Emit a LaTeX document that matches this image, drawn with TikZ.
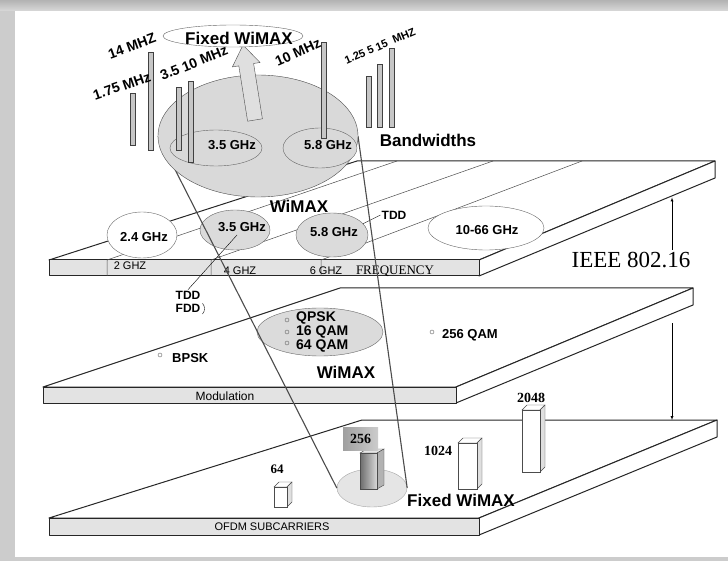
\documentclass[tikz,border=0pt]{standalone}
\usepackage{fontspec}
\setmainfont{Liberation Serif}
\setsansfont{Liberation Sans}
\usetikzlibrary{shapes,arrows,positioning,calc}

\begin{document}
\begin{tikzpicture}[x=1pt, y=-1pt,
    plane/.style={draw=black!85, line width=1pt, line join=round},
    grid/.style={draw=black!70, line width=0.5pt},
    bar/.style={draw=black!75, fill=gray!45, line width=0.8pt},
    wspot/.style={ellipse, draw=black!60, fill=white, inner sep=0pt},
    gspot/.style={ellipse, draw=black!60, fill=gray!28, inner sep=0pt},
    cone/.style={draw=gray!60!black, line width=1.1pt},
    lbl/.style={font=\sffamily\bfseries\fontsize{#1}{#1}\selectfont, inner sep=1pt},
    ftxt/.style={font=\sffamily\fontsize{#1}{#1}\selectfont, inner sep=0pt},
    num/.style={font=\bfseries\fontsize{#1}{#1}\selectfont, inner sep=1pt}]
    \useasboundingbox (0,0) rectangle (728,561);
    % Frame
    \fill[gray!40] (0,0) rectangle (728,561);
    \shade[top color=gray!60, bottom color=gray!30] (0,0) rectangle (728,11);
    \fill[white] (15,11) rectangle (728,557);

    % Frequency plane
    \draw[plane, fill=white] (49,260) -- (357,161) -- (715,161) -- (479,260) -- cycle;
    \draw[plane, fill=white] (479,260) -- (715,161) -- (715,178) -- (479,276) -- cycle;
    \draw[plane, fill=gray!22] (49,260) rectangle (479,276);
    \foreach \fx/\bx in {107/397, 211/493, 321/582} {
        \draw[grid] (\fx,276) -- (\fx,260) -- (\bx,161);
    }
    \node[wspot, minimum width=70, minimum height=46] (p24) at (142,235) {};
    \node[gspot, minimum width=70, minimum height=40] (p35) at (235,230) {};
    \node[gspot, minimum width=72, minimum height=44] (p58) at (332,235) {};
    \node[wspot, minimum width=116, minimum height=44] (p1066) at (486,228) {};
    \node[lbl=13] (t24) at (144,237) {2.4 GHz};
    \node[lbl=13] (t35) at (242,227) {3.5 GHz};
    \node[lbl=13] (t58) at (334,232) {5.8 GHz};
    \node[lbl=13] (t1066) at (487,230) {10-66 GHz};
    \node[ftxt=11] (g2) at (130,266) {2 GHZ};
    \node[ftxt=11] (g4) at (240,271) {4 GHZ};
    \node[ftxt=11] (g6) at (326,271) {6 GHZ};
    \node[font=\fontsize{13}{13}\selectfont, inner sep=0pt] (freq) at (395,271) {FREQUENCY};
    \node[lbl=17] (wm1) at (299,206) {WiMAX};
    \node[lbl=12] (tdda) at (394,215) {TDD};
    \node[lbl=12] (tddb) at (188,295) {TDD};
    \node[lbl=12, below=3pt of tddb] (fdd) {FDD};
    \draw[thin] (tddb.north) -- ([xshift=2pt, yshift=-5pt]p35.center);
    \draw[thin] ([xshift=1pt]fdd.north east) to[bend left=40] ([xshift=1pt]fdd.south east);
    \draw[thin] (p58.20) -- (tdda.west);

    % IEEE 802.16 span
    \node[font=\fontsize{23}{23}\selectfont, inner sep=2pt] (ieee) at (631,260) {IEEE 802.16};
    \coordinate (ieeeup) at (672,197.5);
    \coordinate (ieeelo) at (672,323);
    \coordinate (ieeedn) at (672,420);
    \draw[-latex] (ieee.north -| ieeeup) -- (ieeeup);
    \draw[-latex] (ieeelo) -- (ieeedn);

    % Modulation plane
    \draw[plane, fill=white] (43,387) -- (340,288) -- (693,288) -- (456,387) -- cycle;
    \draw[plane, fill=white] (456,387) -- (693,288) -- (693,305) -- (456,403) -- cycle;
    \draw[plane, fill=gray!22] (43,387) rectangle (456,403);
    \node[ftxt=12] (modu) at (225,396) {Modulation};
    \node[gspot, minimum width=126, minimum height=48] (pmod) at (320,332) {};
    \foreach \by in {320,332,343} {
        \draw[black!60] (287,\by) circle (2pt);
    }
    \node[lbl=14, font=\sffamily\bfseries\fontsize{14}{11}\selectfont, align=left, anchor=west] (qam) at (295,332) {QPSK\\16 QAM\\64 QAM};
    \draw[black!60] (160,355) circle (2pt);
    \node[lbl=13, anchor=west] (bpsk) at (171,358) {BPSK};
    \draw[black!60] (432,332) circle (2pt);
    \node[lbl=13, anchor=west] (q256) at (441,335) {256 QAM};
    \node[lbl=17] (wm2) at (346,372) {WiMAX};

    % Subcarrier plane
    \draw[plane, fill=white] (49,518) -- (362,420) -- (717,420) -- (479,518) -- cycle;
    \draw[plane, fill=white] (479,518) -- (717,420) -- (717,437) -- (479,535) -- cycle;
    \draw[plane, fill=gray!22] (49,518) rectangle (479,535);
    \node[ftxt=11] (ofdm) at (272,527) {OFDM SUBCARRIERS};
    \node[ellipse, draw=gray!70, fill=gray!20, minimum width=70, minimum height=38] (fwell) at (372,488) {};

    % Cone from bands down to subcarriers
    \coordinate (conel) at (158,136);
    \coordinate (coner) at (358,136);
    \draw[cone] (conel) -- (fwell.west);
    \draw[cone] (coner) -- (fwell.east);

    % Bands
    \node[ellipse, draw=gray!60!black, fill=gray!30, minimum width=200, minimum height=122] (bigell) at (258,136) {};
    \node[gspot, fill=gray!30, minimum width=92, minimum height=36] (b35) at (216,148) {};
    \node[gspot, fill=gray!30, minimum width=74, minimum height=40] (b58) at (320,148) {};
    \draw[gray!60!black, fill=gray!25] (247.6,121.2) -- (262.4,118.8) -- (253.6,63.5) -- (260,62.5)
        -- (243,45) -- (232.4,66.9) -- (238.8,65.9) -- cycle;
    \node[wspot, minimum width=140, minimum height=22] (fwtop) at (233,36) {};
    \node[lbl=17] (tfw) at (239,38) {Fixed WiMAX};

    % Bandwidths
    \foreach \bx/\bt/\bb in {130/93/145, 148/52/150, 176/87/150, 188/81/162, 321/42/138, 366/76/127, 377/64/127, 389/48/127} {
        \draw[bar] (\bx,\bt) rectangle (\bx+5,\bb);
    }
    \node[lbl=13] (tb35) at (232,145) {3.5 GHz};
    \node[lbl=13] (tb58) at (328,145) {5.8 GHz};
    \node[lbl=14, rotate=20] (bw14) at (132,46) {14 MHZ};
    \node[lbl=14, rotate=19] (bw175) at (122,86) {1.75 MHz};
    \node[lbl=14, rotate=22] (bw35) at (194,63) {3.5 10 MHz};
    \node[lbl=14, rotate=24] (bw10) at (298,52) {10 MHz};
    \node[lbl=11, rotate=23] (bw125) at (380,46) {1.25 5 15 \ MHZ};
    \node[lbl=17] (bwd) at (428,140) {Bandwidths};

    % Subcarrier columns
    \foreach \bx/\bt/\bw/\bb in {274/487/13/507, 458/443/19/489, 522/410/18/472} {
        \draw[draw=black!70, fill=white] (\bx,\bt) -- ++(5,-5) -- ++(\bw,0) -- ++(-5,5) -- cycle;
        \draw[draw=black!70, fill=gray!25] (\bx+\bw,\bt) -- ++(5,-5) -- (\bx+\bw+5,\bb-5) -- (\bx+\bw,\bb) -- cycle;
        \draw[draw=black!70, fill=white] (\bx,\bt) rectangle (\bx+\bw,\bb);
    }
    \node[num=13] (n64) at (277,469) {64};
    \node[num=14] (n1024) at (438,451) {1024};
    \node[num=14] (n2048) at (531,398) {2048};
    \draw[draw=black!70, fill=gray!20] (360,453) -- (367,449) -- (384,449) -- (377,453) -- cycle;
    \draw[draw=black!70, fill=gray!60] (377,453) -- (384,449) -- (384,485) -- (377,489) -- cycle;
    \shade[left color=gray!85!black, right color=gray!30, draw=black!70] (360,453) rectangle (377,489);
    \node[num=14, left color=gray!75, right color=gray!40, minimum width=35, minimum height=23, inner sep=0pt] (n256) at (360.5,438.5) {256};
    \node[lbl=17] (fwbot) at (461,500) {Fixed WiMAX};
\end{tikzpicture}
\end{document}
